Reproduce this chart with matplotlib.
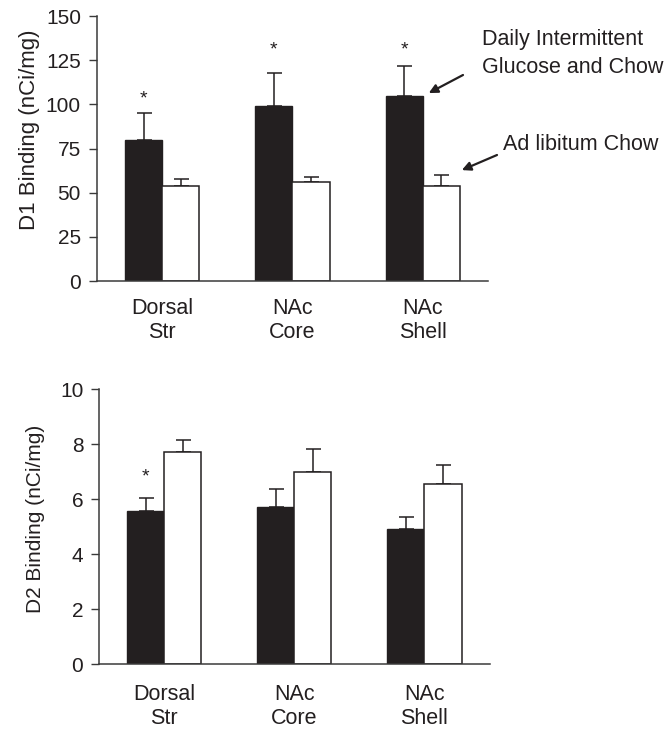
import matplotlib
matplotlib.use("Agg")
import matplotlib.pyplot as plt
import numpy as np

plt.rcParams['font.family'] = ['Liberation Sans', 'DejaVu Sans']

regions = ["Dorsal\nStr", "NAc\nCore", "NAc\nShell"]

# D1 binding (nCi/mg)
d1_glucose = [80, 99, 105]
d1_glucose_err = [15, 19, 17]
d1_chow = [54, 56, 54]
d1_chow_err = [4, 3, 6]
d1_star_y = [103, 131, 131]

# D2 binding (nCi/mg)
d2_glucose = [5.56, 5.71, 4.93]
d2_glucose_err = [0.5, 0.66, 0.44]
d2_chow = [7.71, 6.99, 6.57]
d2_chow_err = [0.44, 0.85, 0.69]
d2_star_y = [6.8, None, None]

d1_ticks = [0, 25, 50, 75, 100, 125, 150]
d2_ticks = [0, 2, 4, 6, 8, 10]

ink = "#231f20"
axis_col = "#3a3a3a"
H = 729  # figure height in pixels

fig = plt.figure(figsize=(6.66, 7.29), dpi=100)
ax1 = fig.add_axes([0.1456, 0.6145, 0.587, 0.3635])
ax2 = fig.add_axes([0.149, 0.0888, 0.586, 0.3772])

x = np.arange(len(regions))
w = 0.285


def draw(ax, g, ge, c, ce, stars, ticks, ylabel, ylabel_size, ylabel_xy,
         xpad):
    ax.bar(x - w / 2, g, w, color=ink, edgecolor=ink, linewidth=1, zorder=2)
    ax.bar(x + w / 2, c, w, color="white", edgecolor=ink, linewidth=1.1, zorder=2)
    ax.errorbar(x - w / 2, g, yerr=[np.zeros(len(g)), ge], fmt="none",
                ecolor=ink, elinewidth=1.1, capsize=5.4, capthick=1.1, zorder=1)
    ax.errorbar(x + w / 2, c, yerr=[np.zeros(len(c)), ce], fmt="none",
                ecolor=ink, elinewidth=1.1, capsize=5.4, capthick=1.1, zorder=1)
    for xi, sy in zip(x, stars):
        if sy is not None:
            ax.text(xi - w / 2, sy, "*", ha="center", va="center",
                    fontsize=14, color=ink)
    ax.set_xlim(-0.5, 2.5)
    ax.set_ylim(ticks[0], ticks[-1])
    ax.set_yticks(ticks)
    ax.set_xticks(x)
    ax.set_xticklabels(regions, fontsize=15.5, color=ink, linespacing=1.2)
    ax.tick_params(axis="x", length=0, pad=xpad)
    ax.tick_params(axis="y", length=6, width=1, color=axis_col,
                   labelsize=15, labelcolor=ink, pad=5.5)
    for s in ("top", "right"):
        ax.spines[s].set_visible(False)
    for s in ("left", "bottom"):
        ax.spines[s].set_color(axis_col)
        ax.spines[s].set_linewidth(1.1)
    ax.set_ylabel(ylabel, fontsize=ylabel_size, color=ink)
    ax.yaxis.set_label_coords(*ylabel_xy)


draw(ax1, d1_glucose, d1_glucose_err, d1_chow, d1_chow_err, d1_star_y,
     d1_ticks, "D1 Binding (nCi/mg)", 16, (-0.145, 0.57), 12)
draw(ax2, d2_glucose, d2_glucose_err, d2_chow, d2_chow_err, d2_star_y,
     d2_ticks, "D2 Binding (nCi/mg)", 15, (-0.14, 0.528), 14)

# Series labels, each with an arrow pointing at its NAc Shell bar
fig.text(482, H - 45, "Daily Intermittent", transform=None, fontsize=15.5,
         color=ink, ha="left", va="baseline")
fig.text(482, H - 73, "Glucose and Chow", transform=None, fontsize=15.5,
         color=ink, ha="left", va="baseline")
fig.text(503, H - 150, "Ad libitum Chow", transform=None, fontsize=15.5,
         color=ink, ha="left", va="baseline")

arrow = dict(arrowstyle="-|>", color=ink, lw=1.6, mutation_scale=13,
             shrinkA=0, shrinkB=0)
ax1.annotate("", xy=(2.046, 106.4), xycoords="data",
             xytext=(463, H - 75), textcoords="figure pixels",
             arrowprops=arrow)
ax1.annotate("", xy=(2.30, 62.8), xycoords="data",
             xytext=(497, H - 155), textcoords="figure pixels",
             arrowprops=arrow)

fig.savefig("out.png", dpi=100)
